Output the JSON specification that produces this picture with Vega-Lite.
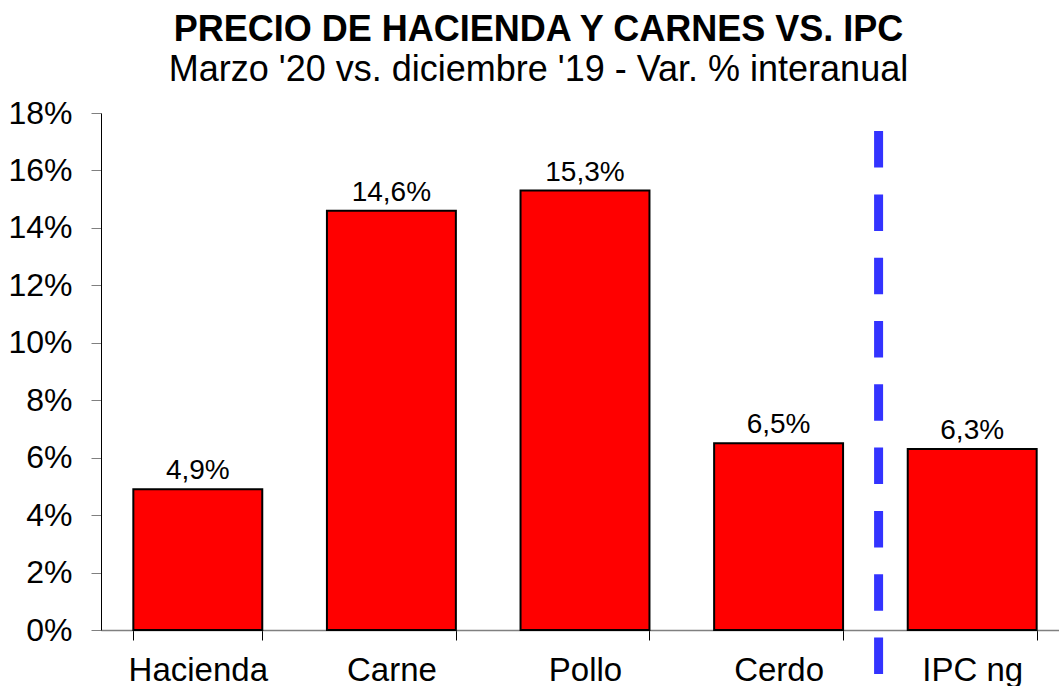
{
  "$schema": "https://vega.github.io/schema/vega-lite/v6.json",
  "autosize": {"type": "none"},
  "padding": {"left": 101, "top": 113, "right": 0, "bottom": 56},
  "width": 958,
  "height": 517,
  "background": "white",
  "config": {
    "view": {"stroke": null},
    "font": "Liberation Sans",
    "locale": {"number": {"decimal": ",", "thousands": ".", "grouping": [3], "currency": ["$", ""]}}
  },
  "title": {
    "text": "PRECIO DE HACIENDA Y CARNES VS. IPC",
    "subtitle": "Marzo '20 vs. diciembre '19 - Var. % interanual",
    "anchor": "middle",
    "frame": "bounds",
    "font": "Liberation Sans",
    "fontSize": 36,
    "fontWeight": "bold",
    "color": "#000000",
    "subtitleFont": "Liberation Sans",
    "subtitleFontSize": 36,
    "subtitleColor": "#000000",
    "subtitlePadding": 4,
    "offset": 8
  },
  "datasets": {
    "bars": [
      {"categoria": "Hacienda", "var": 0.049},
      {"categoria": "Carne", "var": 0.146},
      {"categoria": "Pollo", "var": 0.153},
      {"categoria": "Cerdo", "var": 0.065},
      {"categoria": "IPC ng", "var": 0.063}
    ],
    "separador": [
      {"categoria": "IPC ng", "arriba": 0.1737, "abajo": -0.025}
    ]
  },
  "layer": [
    {
      "data": {"name": "bars"},
      "mark": {"type": "bar", "color": "#FF0000", "stroke": "#000000", "strokeWidth": 2},
      "encoding": {
        "x": {
          "field": "categoria", "type": "nominal", "sort": null,
          "scale": {"paddingInner": 0.334, "paddingOuter": 0.167, "range": [0, 968]},
          "axis": {
            "title": null, "labelAngle": 0, "labelFontSize": 33, "labelColor": "#000000",
            "labelPadding": 14, "tickBand": "extent", "tickSize": 10, "tickColor": "#000000",
            "domainColor": "#808080", "domainWidth": 1.5, "labelFont": "Liberation Sans"
          }
        },
        "y": {
          "field": "var", "type": "quantitative",
          "scale": {"domain": [0, 0.18], "nice": false},
          "axis": {
            "title": null, "format": ".0%", "values": [0, 0.02, 0.04, 0.06, 0.08, 0.1, 0.12, 0.14, 0.16, 0.18],
            "labelFontSize": 32, "labelColor": "#000000", "labelPadding": 19, "tickSize": 10,
            "tickColor": "#808080", "domainColor": "#000000", "grid": false, "labelFont": "Liberation Sans"
          }
        }
      }
    },
    {
      "data": {"name": "bars"},
      "mark": {"type": "text", "fontSize": 28, "baseline": "alphabetic", "dy": -10, "color": "#000000", "font": "Liberation Sans"},
      "encoding": {
        "x": {"field": "categoria", "type": "nominal", "sort": null},
        "y": {"field": "var", "type": "quantitative"},
        "text": {"field": "var", "type": "quantitative", "format": ".1%"}
      }
    },
    {
      "data": {"name": "separador"},
      "mark": {"type": "rule", "color": "#3333FF", "strokeWidth": 9, "strokeDash": [36.5, 26.8], "strokeCap": "butt"},
      "encoding": {
        "x": {"field": "categoria", "type": "nominal", "sort": null, "bandPosition": -0.226},
        "y": {"field": "arriba", "type": "quantitative"},
        "y2": {"field": "abajo"}
      }
    }
  ]
}
